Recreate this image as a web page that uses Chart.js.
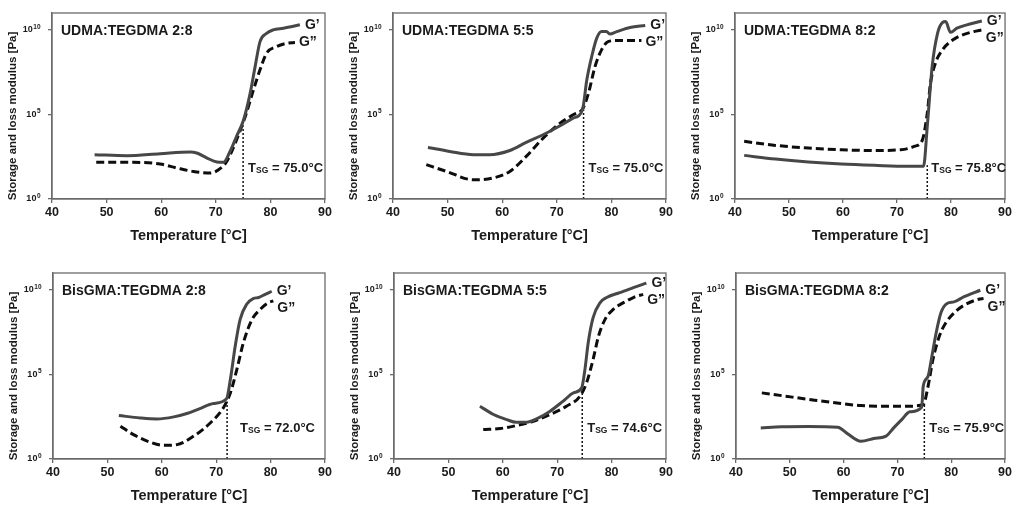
<!DOCTYPE html>
<html>
<head>
<meta charset="utf-8">
<script src="https://cdn.jsdelivr.net/npm/chart.js@4.4.0/dist/chart.umd.min.js"></script>
<style>
body { margin: 0; background: #fff; }
#wrap { position: relative; width: 1016px; height: 505px; overflow: hidden; }
#wrap canvas { position: absolute; }
</style>
</head>
<body>
<div id="wrap">
<canvas id="p1" width="338" height="250" style="left:0;top:0"></canvas>
<canvas id="p2" width="338" height="250" style="left:340px;top:0"></canvas>
<canvas id="p3" width="338" height="250" style="left:676px;top:0"></canvas>
<canvas id="p4" width="338" height="250" style="left:0;top:260px"></canvas>
<canvas id="p5" width="338" height="250" style="left:340px;top:260px"></canvas>
<canvas id="p6" width="338" height="250" style="left:676px;top:260px"></canvas>
</div>
<script>
// values are log10 of modulus in Pa
var udma28T1 = [47.8, 53.7, 59.8, 65.3, 66.5, 68.4, 70.2, 71.4, 72.6, 73.8, 75.1, 76.3, 77.2, 78.1, 79.3, 80.5, 82.4, 85.4];
var udma28G1 = [2.62, 2.56, 2.68, 2.78, 2.72, 2.42, 2.19, 2.17, 2.81, 3.7, 4.69, 6.26, 7.83, 9.31, 9.8, 10.0, 10.1, 10.3];
var udma28T2 = [48.1, 54.9, 59.8, 62.9, 65.9, 69.0, 70.5, 72.0, 73.8, 75.4, 76.9, 78.1, 79.3, 81.2, 83.0, 84.5];
var udma28G2 = [2.17, 2.17, 2.07, 1.83, 1.63, 1.54, 1.73, 2.22, 3.5, 4.88, 6.46, 7.64, 8.62, 9.02, 9.21, 9.25];

var udma55T1 = [46.4, 50.4, 54.7, 57.7, 61.4, 64.4, 67.5, 70.6, 73.0, 74.7, 75.5, 76.4, 77.3, 78.2, 79.1, 79.7, 81.0, 83.4, 86.2];
var udma55G1 = [3.05, 2.81, 2.62, 2.62, 2.87, 3.35, 3.8, 4.33, 4.78, 5.28, 7.05, 8.43, 9.5, 9.9, 9.9, 9.76, 9.9, 10.14, 10.26];
var udma55T2 = [46.1, 49.8, 54.7, 58.3, 61.4, 64.4, 67.5, 70.6, 73.0, 74.8, 75.8, 77.0, 78.2, 79.4, 81.0, 84.6, 85.5];
var udma55G2 = [2.03, 1.63, 1.14, 1.24, 1.63, 2.52, 3.6, 4.49, 4.98, 5.37, 6.26, 7.83, 8.82, 9.31, 9.37, 9.37, 9.37];

var udma82T1 = [41.7, 47.5, 53.6, 59.7, 65.8, 71.9, 74.9, 75.6, 76.5, 77.5, 78.4, 79.0, 79.9, 81.1, 82.9, 85.7];
var udma82G1 = [2.58, 2.36, 2.19, 2.07, 1.99, 1.93, 1.93, 4.29, 7.83, 9.8, 10.43, 10.49, 9.86, 10.1, 10.3, 10.53];
var udma82T2 = [41.7, 47.5, 53.6, 59.7, 65.8, 70.7, 73.2, 74.7, 75.6, 76.2, 77.1, 78.4, 79.9, 81.7, 84.2, 85.7];
var udma82G2 = [3.41, 3.17, 3.01, 2.91, 2.87, 2.91, 3.11, 3.5, 5.08, 6.85, 8.03, 8.82, 9.31, 9.65, 9.9, 10.0];

var bis28T1 = [52.1, 56.0, 59.1, 62.2, 64.6, 67.0, 69.5, 71.9, 72.6, 73.5, 74.4, 75.6, 76.8, 77.8, 79.0, 80.2];
var bis28G1 = [2.57, 2.43, 2.37, 2.49, 2.69, 2.98, 3.28, 3.56, 4.7, 6.68, 8.26, 9.15, 9.49, 9.55, 9.74, 9.92];
var bis28T2 = [52.4, 54.8, 57.9, 60.3, 62.8, 65.8, 68.9, 71.3, 72.6, 73.8, 75.0, 76.6, 78.1, 79.6, 80.5];
var bis28G2 = [1.94, 1.44, 0.99, 0.81, 0.85, 1.34, 2.13, 3.02, 3.91, 5.3, 6.88, 8.26, 8.85, 9.25, 9.35];

var bis55T1 = [55.8, 58.3, 60.7, 62.5, 64.4, 66.2, 68.7, 71.1, 73.0, 74.5, 75.1, 75.7, 76.6, 77.9, 79.1, 81.5, 84.0, 86.4];
var bis55G1 = [3.12, 2.63, 2.33, 2.17, 2.17, 2.37, 2.83, 3.42, 3.91, 4.21, 5.3, 6.88, 8.36, 9.25, 9.55, 9.84, 10.14, 10.4];
var bis55T2 = [56.4, 59.5, 62.5, 65.6, 68.7, 71.7, 74.2, 75.4, 76.6, 77.6, 78.8, 80.3, 82.2, 84.0, 85.8];
var bis55G2 = [1.74, 1.8, 1.98, 2.23, 2.63, 3.12, 3.72, 4.51, 5.89, 7.27, 8.26, 8.85, 9.25, 9.55, 9.74];

var bis82T1 = [44.6, 48.5, 53.4, 58.9, 60.7, 63.2, 65.6, 68.0, 69.3, 70.8, 72.3, 74.5, 74.8, 75.7, 76.3, 77.2, 78.1, 79.3, 80.5, 82.4, 85.4];
var bis82G1 = [1.84, 1.9, 1.92, 1.88, 1.5, 1.05, 1.21, 1.38, 1.84, 2.33, 2.79, 3.06, 4.31, 4.9, 5.89, 7.47, 8.66, 9.21, 9.29, 9.6, 9.98];
var bis82T2 = [44.8, 49.1, 54.6, 59.5, 63.2, 68.0, 71.7, 74.8, 75.7, 76.6, 77.8, 79.0, 80.9, 82.7, 85.1, 86.0];
var bis82G2 = [3.91, 3.72, 3.48, 3.28, 3.16, 3.12, 3.12, 3.22, 4.31, 5.89, 7.27, 8.06, 8.75, 9.15, 9.45, 9.49];

var panelTitles = ['UDMA:TEGDMA 2:8', 'UDMA:TEGDMA 5:5', 'UDMA:TEGDMA 8:2', 'BisGMA:TEGDMA 2:8', 'BisGMA:TEGDMA 5:5', 'BisGMA:TEGDMA 8:2'];
var tsgLine = [75.0, 74.9, 75.6, 72.0, 74.6, 75.0];     // where the dotted line sits
var tsgTop = [4.3, 5.3, 2.0, 3.4, 4.1, 3.2];            // log10 of its upper end
var tsgLabels = ['75.0', '75.0', '75.8', '72.0', '74.6', '75.9'];
var yTickExp = [0, 5, 10];

var FONT = "'Liberation Sans', Arial, sans-serif";
var INK = '#1a1a1a';
var AXIS = '#6b6b6b';

// canvas-local plot box for each panel
var layouts = [
    { left: 52, right: 325, labelGap: 5 },
    { left: 53, right: 326, labelGap: 5 },
    { left: 59, right: 332, labelGap: 4 },
    { left: 53, right: 325, labelGap: 13 },
    { left: 54, right: 326, labelGap: 5 },
    { left: 60, right: 333, labelGap: 5 }
];

function toPoints(temps, logs) {
    return temps.map(function (t, i) { return { x: t, y: Math.pow(10, logs[i]) }; });
}

// texts drawn on top of each panel
var decorPlugin = {
    id: 'decor',
    afterDatasetsDraw: function (chart) {
        var o = chart.options.plugins.decor;
        var ctx = chart.ctx, a = chart.chartArea;
        var xs = chart.scales.x, ys = chart.scales.y;
        ctx.save();

        // plot frame
        ctx.strokeStyle = AXIS;
        ctx.lineWidth = 1.3;
        ctx.strokeRect(a.left, a.top, a.right - a.left, a.bottom - a.top);

        ctx.fillStyle = INK;
        ctx.textBaseline = 'middle';

        // y tick labels 10^n
        yTickExp.forEach(function (e) {
            var yy = ys.getPixelForValue(Math.pow(10, e));
            ctx.font = 'bold 6.5px ' + FONT;
            var ew = ctx.measureText(String(e)).width;
            ctx.font = 'bold 9px ' + FONT;
            var bw = ctx.measureText('10').width;
            var x0 = a.left - 12 - ew - bw;
            ctx.textAlign = 'left';
            ctx.fillText('10', x0, yy);
            ctx.font = 'bold 6.5px ' + FONT;
            ctx.fillText(String(e), x0 + bw + 0.5, yy - 3);
        });

        // y axis title
        ctx.save();
        ctx.translate(a.left - 39, 116);
        ctx.rotate(-Math.PI / 2);
        ctx.textAlign = 'center';
        ctx.font = 'bold 11.5px ' + FONT;
        ctx.fillText('Storage and loss modulus [Pa]', 0, 0);
        ctx.restore();

        // panel title
        ctx.textAlign = 'left';
        ctx.font = 'bold 14px ' + FONT;
        ctx.fillText(o.title, a.left + 9, ys.getPixelForValue(1e10) + 1);

        // G' and G'' labels at the curve ends
        var m1 = chart.getDatasetMeta(0).data, m2 = chart.getDatasetMeta(1).data;
        var p1 = m1[m1.length - 1], p2 = m2[m2.length - 1];
        ctx.font = 'bold 14px ' + FONT;
        ctx.fillText('G\u2019', p1.x + 5, p1.y);
        ctx.fillText('G\u201d', p2.x + 4, Math.max(p2.y, p1.y + 17));

        // T_SG label
        var tx = xs.getPixelForValue(o.tsg) + o.gap;
        var ty = ys.getPixelForValue(Math.pow(10, 1.83));
        ctx.font = 'bold 13px ' + FONT;
        ctx.fillText('T', tx, ty);
        tx += ctx.measureText('T').width;
        ctx.font = 'bold 8.5px ' + FONT;
        ctx.fillText('SG', tx, ty + 2.5);
        tx += ctx.measureText('SG').width;
        ctx.font = 'bold 13px ' + FONT;
        ctx.fillText(' = ' + o.label + '°C', tx, ty);

        ctx.restore();
    }
};

function getPanelChart(id, idx, t1, g1, t2, g2) {
    var lay = layouts[idx];
    return new Chart(document.getElementById(id), {
        type: 'line',
        data: {
            datasets: [{
                label: "G'",
                data: toPoints(t1, g1),
                borderColor: '#474747',
                borderWidth: 3,
                pointRadius: 0,
                cubicInterpolationMode: 'monotone'
            }, {
                label: "G''",
                data: toPoints(t2, g2),
                borderColor: '#0d0d0d',
                borderWidth: 3,
                borderDash: [8, 4],
                pointRadius: 0,
                cubicInterpolationMode: 'monotone'
            }, {
                label: 'Tsg',
                data: [{ x: tsgLine[idx], y: 1 }, { x: tsgLine[idx], y: Math.pow(10, tsgTop[idx]) }],
                borderColor: '#111',
                borderWidth: 1.5,
                borderDash: [2, 2],
                pointRadius: 0
            }]
        },
        options: {
            responsive: false,
            animation: false,
            events: [],
            layout: { padding: { left: 0, right: 338 - lay.right, top: 13, bottom: 0 } },
            plugins: {
                legend: { display: false },
                tooltip: { enabled: false },
                decor: { title: panelTitles[idx], tsg: tsgLine[idx], label: tsgLabels[idx], gap: lay.labelGap }
            },
            scales: {
                x: {
                    type: 'linear',
                    min: 40,
                    max: 90,
                    ticks: { stepSize: 10, color: INK, font: { family: FONT, size: 12.5, weight: 'bold' }, padding: 2 },
                    grid: { drawOnChartArea: false, drawTicks: true, tickLength: 4, color: AXIS, lineWidth: 1.3 },
                    border: { color: AXIS, width: 1.3 },
                    title: { display: true, text: 'Temperature [°C]', color: INK, font: { family: FONT, size: 14.5, weight: 'bold' }, padding: { top: 0, bottom: 5 } },
                    afterFit: function (s) { s.height = 51; }
                },
                y: {
                    type: 'logarithmic',
                    min: 1,
                    max: 1e11,
                    afterBuildTicks: function (s) {
                        s.ticks = yTickExp.map(function (e) { return { value: Math.pow(10, e) }; });
                    },
                    ticks: { display: false },
                    grid: { drawOnChartArea: false, drawTicks: true, tickLength: 4, color: AXIS, lineWidth: 1.3 },
                    border: { color: AXIS, width: 1.3 },
                    afterFit: function (s) { s.width = lay.left; }
                }
            }
        },
        plugins: [decorPlugin]
    });
}

getPanelChart('p1', 0, udma28T1, udma28G1, udma28T2, udma28G2);
getPanelChart('p2', 1, udma55T1, udma55G1, udma55T2, udma55G2);
getPanelChart('p3', 2, udma82T1, udma82G1, udma82T2, udma82G2);
getPanelChart('p4', 3, bis28T1, bis28G1, bis28T2, bis28G2);
getPanelChart('p5', 4, bis55T1, bis55G1, bis55T2, bis55G2);
getPanelChart('p6', 5, bis82T1, bis82G1, bis82T2, bis82G2);
</script>
</body>
</html>
